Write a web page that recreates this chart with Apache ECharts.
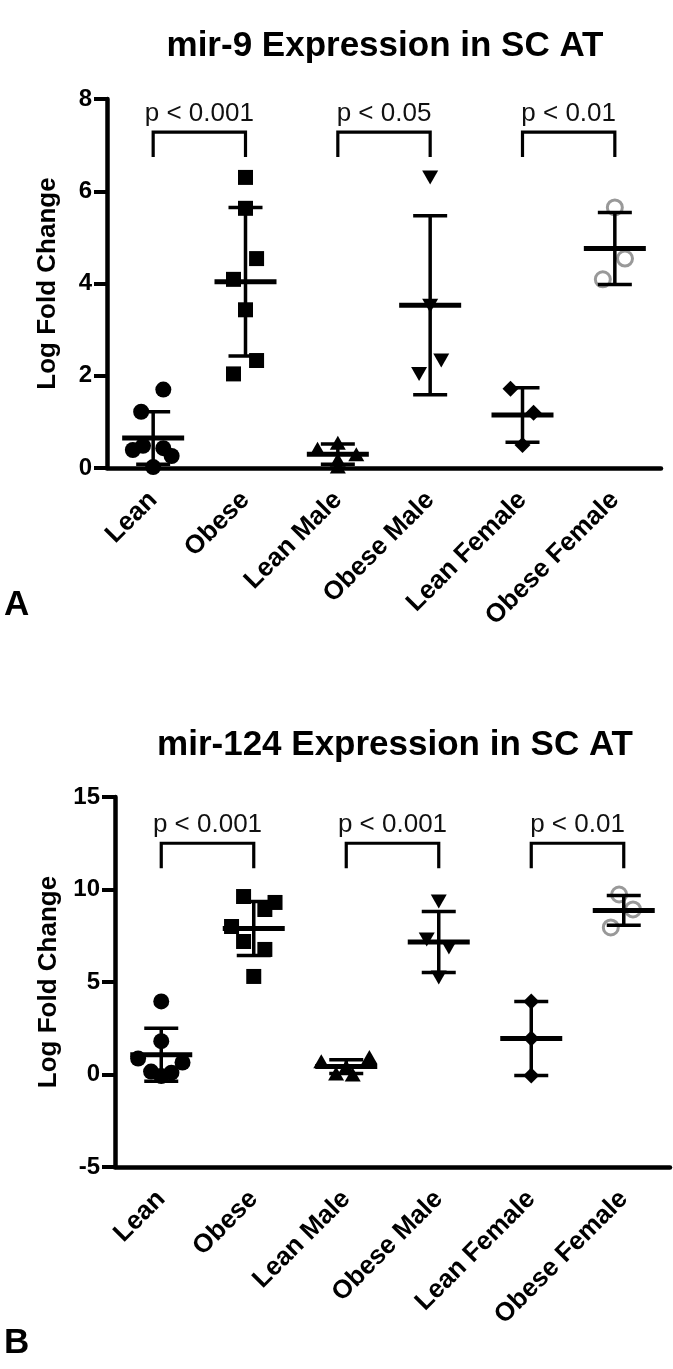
<!DOCTYPE html>
<html>
<head>
<meta charset="utf-8">
<script src="https://cdn.jsdelivr.net/npm/echarts@6/dist/echarts.min.js"></script>
<style>
  html, body { margin: 0; padding: 0; background: #fff; }
  #chart { width: 673px; height: 1369px; }
</style>
</head>
<body>
<div id="chart"></div>
<script>
const categories = ["Lean", "Obese", "Lean Male", "Obese Male", "Lean Female", "Obese Female"];

// panel A - mir-9 (values per group, jitter in category units)
const a_lean = [1.70, 1.22, 0.48, 0.39, 0.43, 0.26, 0.02];
const a_leanJit = [0.11, -0.13, -0.11, -0.22, 0.11, 0.2, 0];
const a_obese = [6.30, 5.63, 4.54, 4.09, 3.43, 2.33, 2.04];
const a_obeseJit = [0, 0, 0.12, -0.13, 0, 0.12, -0.13];
const a_leanMale = [0.55, 0.42, 0.30, 0.18, 0.03];
const a_leanMaleJit = [0, -0.22, 0.2, 0, 0];
const a_obeseMale = [6.30, 3.52, 2.33, 2.04];
const a_obeseMaleJit = [0, 0, 0.12, -0.12];
const a_leanFemale = [1.72, 1.20, 0.50];
const a_leanFemaleJit = [-0.13, 0.12, 0];
const a_obeseFemale = [5.65, 4.54, 4.09];
const a_obeseFemaleJit = [0, 0.11, -0.13];
const a_mean = [0.65, 4.04, 0.30, 3.53, 1.15, 4.76];
const a_sd = [0.57, 1.61, 0.22, 1.94, 0.59, 0.78];
const a_yTicks = [0, 8, 2];
const a_pairs = [[0, 1], [2, 3], [4, 5]];
const a_pLabels = ["p < 0.001", "p < 0.05", "p < 0.01"];
const a_bracketTop = 7.28, a_bracketLeg = 6.74;

// panel B - mir-124
const b_lean = [3.95, 1.80, 0.86, 0.65, 0.16, 0.10, -0.08];
const b_leanJit = [0, 0, -0.25, 0.23, -0.11, 0.11, 0];
const b_obese = [9.62, 9.30, 8.92, 8.00, 7.19, 6.76, 5.30];
const b_obeseJit = [-0.11, 0.23, 0.12, -0.24, -0.11, 0.12, 0];
const b_leanMale = [0.95, 0.72, 0.42, 0.05, 0.0];
const b_leanMaleJit = [0.25, -0.27, 0, -0.11, 0.07];
const b_obeseMale = [9.35, 7.30, 6.86, 5.24];
const b_obeseMaleJit = [0, -0.13, 0.11, 0];
const b_leanFemale = [3.95, 1.95, -0.05];
const b_leanFemaleJit = [0, 0, 0];
const b_obeseFemale = [9.73, 8.92, 7.95];
const b_obeseFemaleJit = [-0.05, 0.1, -0.14];
const b_mean = [1.07, 7.89, 0.43, 7.16, 1.95, 8.87];
const b_sd = [1.43, 1.46, 0.37, 1.65, 2.0, 0.80];
const b_yTicks = [-5, 15, 5];
const b_pairs = [[0, 1], [2, 3], [4, 5]];
const b_pLabels = ["p < 0.001", "p < 0.001", "p < 0.01"];
const b_bracketTop = 12.5, b_bracketLeg = 11.15;

const FONT = "Liberation Sans, Arial, Helvetica, sans-serif";

const chart = echarts.init(document.getElementById("chart"));

// marker style per group
const markers = [
  { symbol: "circle", size: 16, rotate: 0, fill: "#000", border: "#000", bw: 0 },
  { symbol: "rect", size: 15, rotate: 0, fill: "#000", border: "#000", bw: 0 },
  { symbol: "triangle", size: [16, 14], rotate: 0, fill: "#000", border: "#000", bw: 0 },
  { symbol: "triangle", size: [16, 14], rotate: 180, fill: "#000", border: "#000", bw: 0 },
  { symbol: "diamond", size: [16, 16], rotate: 0, fill: "#000", border: "#000", bw: 0 },
  { symbol: "circle", size: 15, rotate: 0, fill: "rgba(0,0,0,0)", border: "#999", bw: 3 }
];

function scatterSeries(gi, groups, jits) {
  return groups.map((vals, i) => {
    const m = markers[i];
    return {
      type: "scatter",
      xAxisIndex: gi * 2 + 1,
      yAxisIndex: gi,
      symbol: m.symbol,
      symbolSize: m.size,
      symbolRotate: m.rotate,
      itemStyle: { color: m.fill, borderColor: m.border, borderWidth: m.bw, opacity: 1 },
      z: 2,
      data: vals.map((v, k) => [i + jits[i][k], v])
    };
  });
}

function errorSeries(gi, means, sds) {
  return {
    type: "custom",
    xAxisIndex: gi * 2 + 1,
    yAxisIndex: gi,
    z: 5,
    renderItem: (params, api) => {
      const x = api.value(0), m = api.value(1), s = api.value(2);
      const c = api.coord([x, m]);
      const hi = api.coord([x, m + s]);
      const lo = api.coord([x, m - s]);
      const st = { stroke: "#000", lineWidth: 3.5 };
      return {
        type: "group",
        children: [
          { type: "line", shape: { x1: c[0], y1: hi[1], x2: c[0], y2: lo[1] }, style: st },
          { type: "line", shape: { x1: c[0] - 17, y1: hi[1], x2: c[0] + 17, y2: hi[1] }, style: st },
          { type: "line", shape: { x1: c[0] - 17, y1: lo[1], x2: c[0] + 17, y2: lo[1] }, style: st },
          { type: "line", shape: { x1: c[0] - 31, y1: c[1], x2: c[0] + 31, y2: c[1] }, style: { stroke: "#000", lineWidth: 5 } }
        ]
      };
    },
    data: means.map((m, i) => [i, m, sds[i]])
  };
}

function bracketSeries(gi, pairs, labels, top, leg) {
  return {
    type: "custom",
    xAxisIndex: gi * 2 + 1,
    yAxisIndex: gi,
    z: 5,
    renderItem: (params, api) => {
      const x1 = api.value(0), x2 = api.value(1);
      const p1 = api.coord([x1, leg]);
      const p2 = api.coord([x1, top]);
      const p3 = api.coord([x2, top]);
      const p4 = api.coord([x2, leg]);
      return {
        type: "group",
        children: [
          { type: "polyline", shape: { points: [p1, p2, p3, p4] }, style: { stroke: "#000", lineWidth: 3.2, fill: null } },
          { type: "text", x: (p2[0] + p3[0]) / 2, y: p2[1] - 5,
            style: { text: labels[params.dataIndex], font: "26px " + FONT, fill: "#111", align: "center", verticalAlign: "bottom" } }
        ]
      };
    },
    data: pairs.map(p => [p[0], p[1]])
  };
}

const grids = [
  { left: 107, top: 99, width: 554, height: 369 },
  { left: 115, top: 797, width: 555, height: 370 }
];

function xAxes(gi) {
  return [
    {
      type: "category", gridIndex: gi, data: categories,
      axisLine: { onZero: false, lineStyle: { color: "#000", width: 4.5 } },
      axisTick: { alignWithLabel: true, length: 13, lineStyle: { color: "#000", width: 4 } },
      axisLabel: { rotate: 45, margin: 28, color: "#000", fontSize: 26, fontWeight: "bold", fontFamily: FONT, interval: 0 },
      splitLine: { show: false }
    },
    { type: "value", gridIndex: gi, min: -0.5, max: 5.5, show: false, splitLine: { show: false } }
  ];
}

function yAxis(gi, ticks, gap) {
  return {
    type: "value", gridIndex: gi, min: ticks[0], max: ticks[1], interval: ticks[2],
    name: "Log Fold Change", nameLocation: "middle", nameGap: gap,
    nameTextStyle: { color: "#000", fontSize: 26, fontWeight: "bold", fontFamily: FONT },
    axisLine: { show: true, onZero: false, lineStyle: { color: "#000", width: 4.5 } },
    axisTick: { show: true, length: 13, lineStyle: { color: "#000", width: 4 } },
    axisLabel: { margin: 15, color: "#000", fontSize: 24, fontWeight: "bold", fontFamily: FONT },
    splitLine: { show: false }
  };
}

const titleStyle = { color: "#000", fontSize: 35, fontWeight: "bold", fontFamily: FONT };

chart.setOption({
  animation: false,
  backgroundColor: "#fff",
  title: [
    { text: "mir-9 Expression in SC AT", left: 385, top: 29, textAlign: "center", padding: 0, textStyle: titleStyle },
    { text: "mir-124 Expression in SC AT", left: 395, top: 728, textAlign: "center", padding: 0, textStyle: titleStyle },
    { text: "A", left: 4, top: 588, padding: 0, textStyle: titleStyle },
    { text: "B", left: 4, top: 1326, padding: 0, textStyle: titleStyle }
  ],
  grid: grids,
  xAxis: [...xAxes(0), ...xAxes(1)],
  yAxis: [yAxis(0, a_yTicks, 46), yAxis(1, b_yTicks, 53)],
  series: [
    ...scatterSeries(0,
      [a_lean, a_obese, a_leanMale, a_obeseMale, a_leanFemale, a_obeseFemale],
      [a_leanJit, a_obeseJit, a_leanMaleJit, a_obeseMaleJit, a_leanFemaleJit, a_obeseFemaleJit]),
    errorSeries(0, a_mean, a_sd),
    bracketSeries(0, a_pairs, a_pLabels, a_bracketTop, a_bracketLeg),
    ...scatterSeries(1,
      [b_lean, b_obese, b_leanMale, b_obeseMale, b_leanFemale, b_obeseFemale],
      [b_leanJit, b_obeseJit, b_leanMaleJit, b_obeseMaleJit, b_leanFemaleJit, b_obeseFemaleJit]),
    errorSeries(1, b_mean, b_sd),
    bracketSeries(1, b_pairs, b_pLabels, b_bracketTop, b_bracketLeg)
  ]
});
</script>
</body>
</html>
